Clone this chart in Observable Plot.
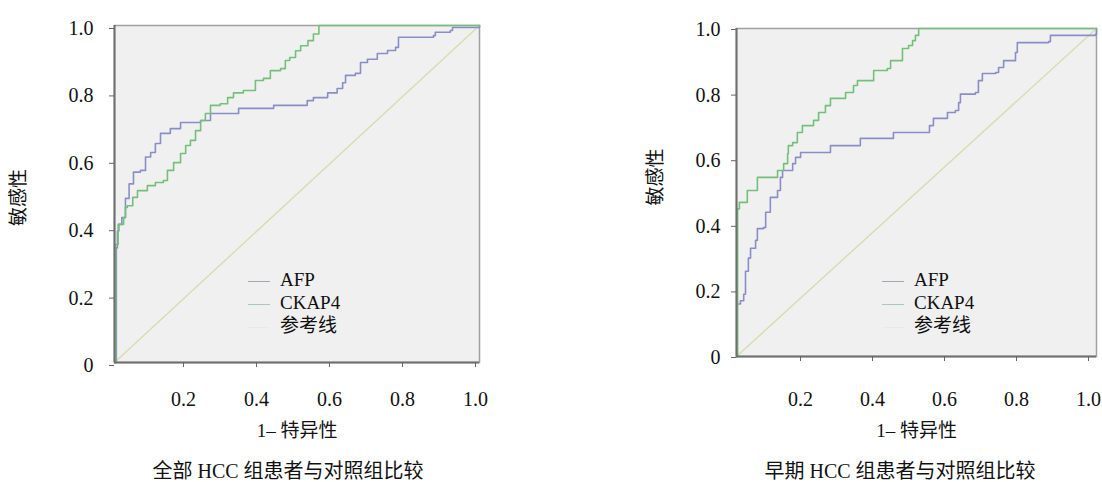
<!DOCTYPE html>
<html><head><meta charset="utf-8">
<script src="https://cdn.jsdelivr.net/npm/d3@7"></script>
<script src="https://cdn.jsdelivr.net/npm/@observablehq/plot@0.6"></script>
<style>
body{margin:0;background:#fff;font-family:"Liberation Serif","Noto Sans CJK SC",serif;color:#111;}
#wrap{position:relative;width:1102px;height:482px;overflow:hidden;}
.panel{position:absolute;top:0;}
.caption{position:absolute;top:459px;width:320px;text-align:center;font-size:20px;line-height:24px;white-space:nowrap;}
.legend{position:absolute;top:268px;font-size:19px;line-height:23px;white-space:nowrap;}
.legend .sw{display:inline-block;width:22px;height:0;border-top:1.5px solid #aaa;vertical-align:middle;margin-right:10px;}
</style></head>
<body><div id="wrap"></div>
<script>
// ---------- data ----------
const yTitle = "敏感性";
const xTitle = "1– 特异性";
const captions = ["全部 HCC 组患者与对照组比较", "早期 HCC 组患者与对照组比较"];
const seriesNames = ["AFP", "CKAP4", "参考线"];
const xTicks = [0.2, 0.4, 0.6, 0.8, 1.0];
const yTicks = [0, 0.2, 0.4, 0.6, 0.8, 1.0];

const refLine = [[0, 0], [1, 1]];

// panel 1: all HCC vs control  [1-specificity, sensitivity]
const afpAll = [[0,0],[0.005,0.34],[0.008,0.39],[0.012,0.41],[0.02,0.43],[0.03,0.487],[0.04,0.53],[0.052,0.565],[0.071,0.57],[0.085,0.61],[0.099,0.623],[0.112,0.65],[0.126,0.68],[0.153,0.694],[0.181,0.712],[0.236,0.718],[0.263,0.739],[0.337,0.739],[0.34,0.754],[0.433,0.754],[0.436,0.763],[0.518,0.763],[0.528,0.777],[0.545,0.786],[0.584,0.8],[0.61,0.813],[0.625,0.83],[0.633,0.852],[0.66,0.858],[0.674,0.89],[0.693,0.9],[0.72,0.917],[0.748,0.926],[0.77,0.935],[0.778,0.965],[0.874,0.97],[0.879,0.98],[0.92,0.985],[0.926,0.994],[0.99,0.994],[1,1]];
const ckapAll = [[0,0],[0.003,0.35],[0.01,0.41],[0.025,0.43],[0.03,0.46],[0.035,0.465],[0.05,0.49],[0.063,0.51],[0.09,0.525],[0.112,0.534],[0.134,0.54],[0.145,0.57],[0.162,0.593],[0.181,0.62],[0.195,0.644],[0.208,0.659],[0.222,0.688],[0.236,0.718],[0.249,0.739],[0.263,0.763],[0.29,0.768],[0.31,0.786],[0.326,0.8],[0.353,0.807],[0.386,0.837],[0.408,0.843],[0.427,0.866],[0.455,0.872],[0.468,0.896],[0.48,0.905],[0.496,0.925],[0.51,0.94],[0.53,0.955],[0.545,0.975],[0.56,1.0],[1,1]];

// panel 2: early HCC vs control
const afpEarly = [[0,0],[0.002,0.16],[0.011,0.17],[0.02,0.19],[0.025,0.26],[0.033,0.3],[0.039,0.33],[0.053,0.354],[0.058,0.39],[0.075,0.393],[0.081,0.44],[0.094,0.485],[0.114,0.506],[0.122,0.546],[0.128,0.567],[0.15,0.567],[0.156,0.588],[0.164,0.607],[0.178,0.622],[0.256,0.622],[0.261,0.643],[0.339,0.643],[0.344,0.665],[0.433,0.665],[0.436,0.683],[0.53,0.683],[0.536,0.704],[0.547,0.726],[0.58,0.726],[0.586,0.744],[0.608,0.75],[0.617,0.774],[0.622,0.8],[0.664,0.805],[0.672,0.841],[0.683,0.863],[0.72,0.866],[0.728,0.881],[0.742,0.902],[0.767,0.902],[0.775,0.927],[0.78,0.957],[0.867,0.96],[0.872,0.979],[0.997,0.982],[1,1]];
const ckapEarly = [[0,0],[0.003,0.45],[0.008,0.47],[0.025,0.47],[0.03,0.506],[0.044,0.506],[0.058,0.546],[0.103,0.546],[0.114,0.567],[0.125,0.567],[0.131,0.588],[0.142,0.619],[0.144,0.643],[0.156,0.652],[0.169,0.683],[0.183,0.704],[0.206,0.704],[0.214,0.72],[0.228,0.744],[0.247,0.765],[0.261,0.787],[0.294,0.787],[0.303,0.805],[0.325,0.826],[0.336,0.841],[0.372,0.841],[0.381,0.872],[0.419,0.878],[0.428,0.902],[0.45,0.902],[0.461,0.939],[0.478,0.948],[0.489,0.963],[0.497,0.979],[0.506,1.0],[1,1]];

// ---------- styles ----------
const afpColor = "#8a8ec6";
const ckapColor = "#74c07a";
const refColor = "#d8dcb2";
const legendSwatches = ["#a4a6b4", "#a9c9c0", "#e9eae2"];

const wrap = document.getElementById("wrap");

function panel(cfg) {
  const chart = Plot.plot({
    width: 551, height: 445,
    marginLeft: cfg.ml, marginRight: cfg.mr, marginTop: cfg.mt, marginBottom: cfg.mb,
    x: {domain: [0, 1]},
    y: {domain: [0, 1]},
    style: {fontFamily: "Liberation Serif, Noto Sans CJK SC, serif", fontSize: "20px", background: "transparent", color: "#111", overflow: "visible"},
    marks: [
      Plot.frame({fill: "#f0f0f0", stroke: "#a0a0a0", strokeWidth: 1.5}),
      Plot.line(refLine, {stroke: refColor, strokeWidth: 1.4}),
      Plot.line(cfg.afp, {curve: "step-after", stroke: afpColor, strokeWidth: 1.6}),
      Plot.line(cfg.ckap, {curve: "step-after", stroke: ckapColor, strokeWidth: 1.6}),
      Plot.ruleX([0], {stroke: "#6f6f6f", strokeWidth: 2}),
      Plot.ruleY([0], {stroke: "#6f6f6f", strokeWidth: 2}),
      Plot.axisY({ticks: yTicks, tickFormat: d => d === 0 ? "0" : d.toFixed(1), tickSize: 5, tickPadding: cfg.yPad, label: null, stroke: "#666", fill: "#111", fontSize: 20, dy: cfg.yDy}),
      Plot.axisX({ticks: xTicks, tickFormat: d => d.toFixed(1), tickSize: 5, tickPadding: cfg.xPad, label: null, stroke: "#666", fill: "#111", fontSize: 20, dx: cfg.xDx}),
      Plot.text([xTitle], {frameAnchor: "bottom", dy: cfg.xTitleDy, fontSize: 19, fill: "#111"}),
      Plot.text([yTitle], {frameAnchor: "left", dx: cfg.yTitleDx, dy: cfg.yTitleDy, rotate: -90, fontSize: 19, fill: "#111"})
    ]
  });
  const d = document.createElement("div");
  d.className = "panel";
  d.style.left = cfg.left + "px";
  d.appendChild(chart);
  wrap.appendChild(d);

  const lg = document.createElement("div");
  lg.className = "legend";
  lg.style.left = cfg.legendLeft + "px";
  seriesNames.forEach((n, i) => {
    const row = document.createElement("div");
    const sw = document.createElement("span");
    sw.className = "sw";
    sw.style.borderTopColor = legendSwatches[i];
    row.appendChild(sw);
    row.appendChild(document.createTextNode(n));
    lg.appendChild(row);
  });
  wrap.appendChild(lg);

  const cap = document.createElement("div");
  cap.className = "caption";
  cap.style.left = cfg.capLeft + "px";
  cap.textContent = cfg.caption;
  wrap.appendChild(cap);
}

panel({left: 0, ml: 114, mr: 72, mt: 25, mb: 83, afp: afpAll, ckap: ckapAll,
  yPad: 16, yDy: 3, xPad: 24, xDx: -4, xTitleDy: 74, yTitleDx: -96, yTitleDy: 32,
  legendLeft: 248, capLeft: 128, caption: captions[0]});
panel({left: 551, ml: 185, mr: 6, mt: 28, mb: 89, afp: afpEarly, ckap: ckapEarly,
  yPad: 11, yDy: 1, xPad: 30, xDx: -8, xTitleDy: 80, yTitleDx: -81, yTitleDy: 13,
  legendLeft: 882, capLeft: 740, caption: captions[1]});
</script></body></html>
